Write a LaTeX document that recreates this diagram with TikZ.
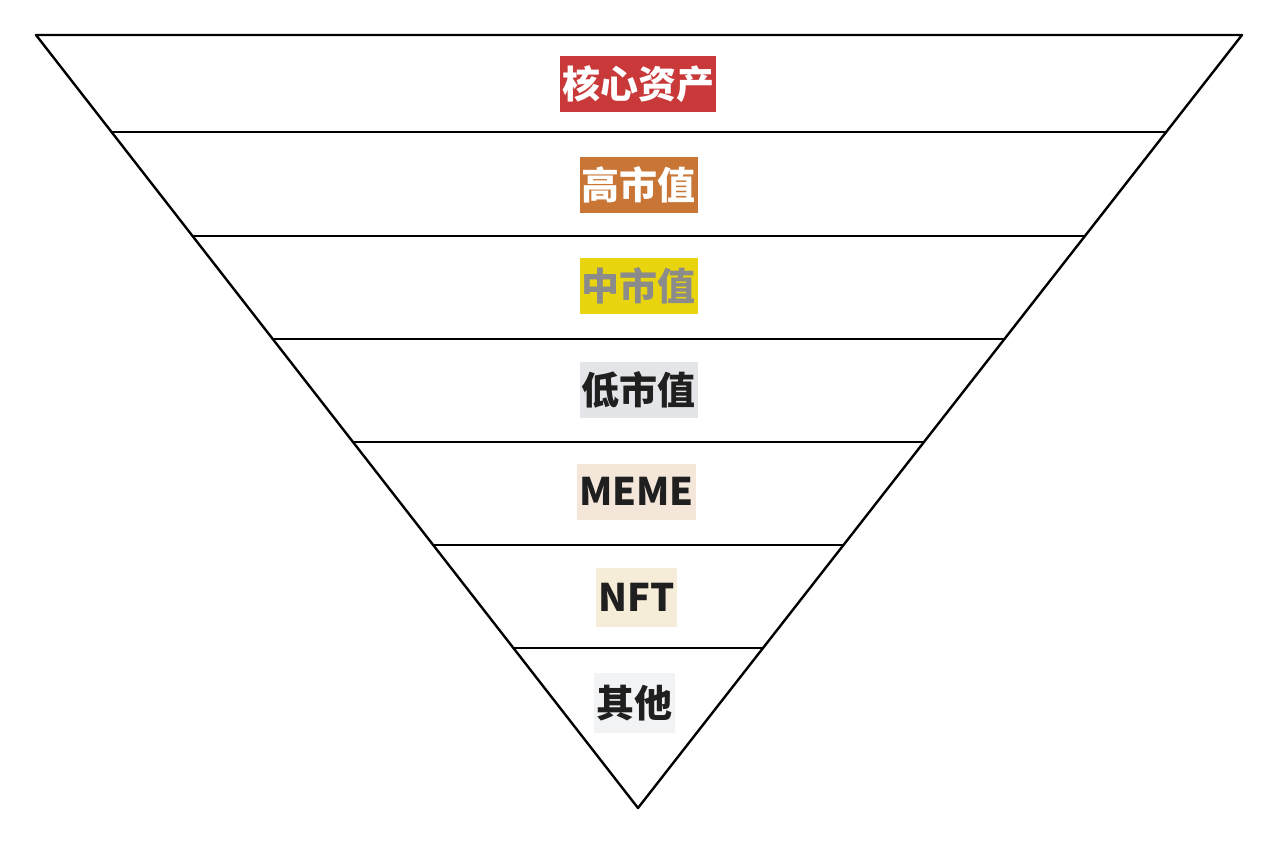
\documentclass[tikz,border=0pt]{standalone}
\usepackage{fontspec}
\newfontfamily\cjk{Noto Sans CJK SC}
\usepackage{xcolor}
\usetikzlibrary{calc}
\definecolor{hexin}{HTML}{C9393A}
\definecolor{gao}{HTML}{C87535}
\definecolor{zhong}{HTML}{E8D40F}
\definecolor{zhongtext}{HTML}{8B8B8B}
\definecolor{di}{HTML}{E4E5E8}
\definecolor{meme}{HTML}{F5E6DA}
\definecolor{nft}{HTML}{F5EDD8}
\definecolor{qita}{HTML}{F1F3F5}
\definecolor{dark}{HTML}{1F1F1F}
\tikzstyle{level} = [rectangle, inner xsep=2pt, inner ysep=0pt, minimum height=56pt, text centered, font=\cjk\bfseries\fontsize{38}{38}\selectfont, text=dark]
\tikzstyle{edge} = [line width=2.4pt, line cap=round, line join=round]

\begin{document}
\begin{tikzpicture}[x=1pt, y=-1pt]
    \useasboundingbox (0,0) rectangle (1280,846);

        % Triangle
        \coordinate (tl) at (36,35);
        \coordinate (tr) at (1242,35);
        \coordinate (apex) at (638,808);
        \draw [edge] (tl) -- (tr) -- (apex) -- cycle;

        % Dividers
        \foreach \i/\f in {1/0.1255, 2/0.2600, 3/0.3933, 4/0.5265, 5/0.6598, 6/0.7930} {
            \coordinate (l\i) at ($(tl)!\f!(apex)$);
            \coordinate (r\i) at ($(tr)!\f!(apex)$);
            \draw [edge] (l\i) -- (r\i);
        }

        % Labels
        \node (core) [level, fill=hexin, text=white, minimum width=156pt] at (638,84) {核心资产};
        \node (high) [level, fill=gao, text=white, minimum width=117pt] at (638.5,184.5) {高市值};
        \node (mid) [level, fill=zhong, text=zhongtext, minimum width=117pt] at (638.5,285.5) {中市值};
        \node (low) [level, fill=di, minimum width=117pt] at (638.5,390) {低市值};
        \node (meme) [level, fill=meme, minimum width=113pt] at (636.5,491.5) {MEME};
        \node (nft) [level, fill=nft, minimum width=81pt, minimum height=59pt] at (636.5,597.5) {NFT};
        \node (other) [level, fill=qita, minimum width=81pt, minimum height=60pt] at (634.5,703) {其他};

    \end{tikzpicture}
\end{document}
